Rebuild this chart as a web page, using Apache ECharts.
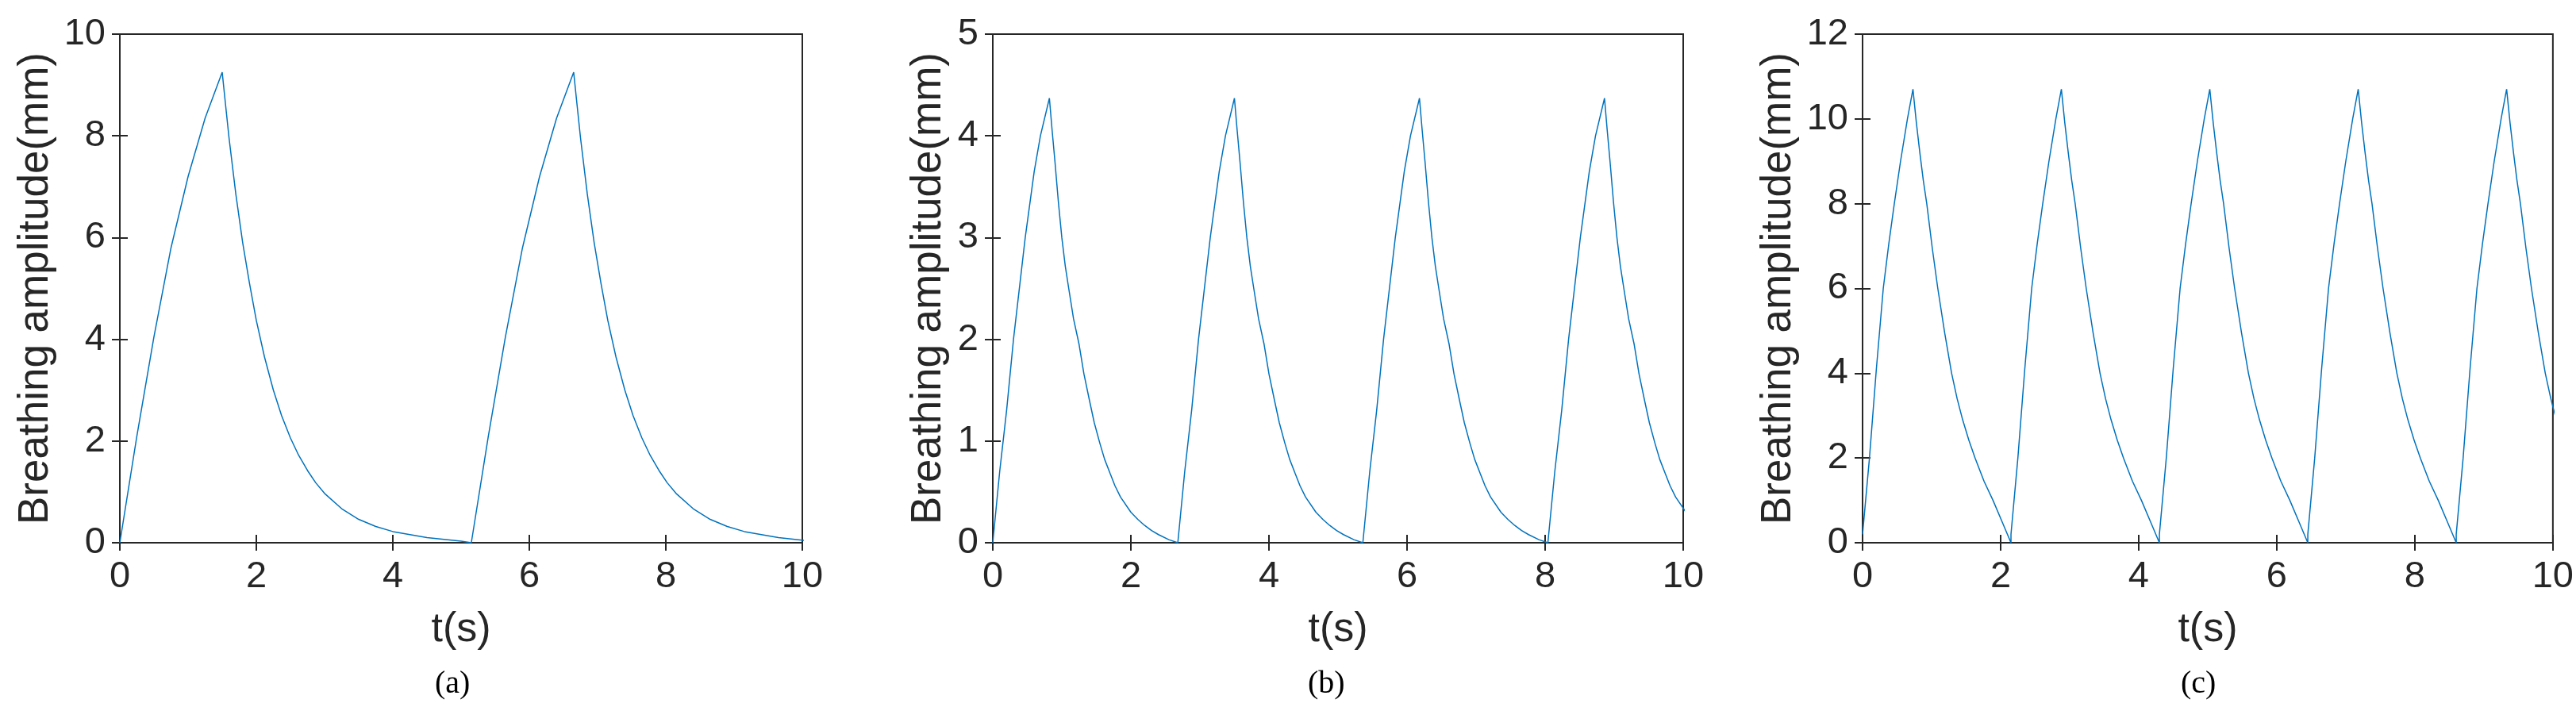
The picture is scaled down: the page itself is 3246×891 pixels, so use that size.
<!DOCTYPE html>
<html>
<head>
<meta charset="utf-8">
<script src="https://cdn.jsdelivr.net/npm/echarts@6/dist/echarts.min.js"></script>
<style>
html, body { margin: 0; padding: 0; background: #fff; }
#main { width: 3246px; height: 891px; }
</style>
</head>
<body>
<div id="main"></div>
<script>
// one breathing cycle per panel, [t from cycle start, amplitude]
var cycleA = [[0,0],[0.25,2.1],[0.5,4.05],[0.75,5.8],[1,7.2],[1.25,8.35],[1.5,9.25],[1.55,8.6],[1.6,7.96],
    [1.7,6.85],[1.8,5.9],[1.9,5.1],[2,4.37],[2.12,3.65],[2.25,3.0],[2.37,2.5],[2.5,2.06],[2.62,1.72],
    [2.75,1.42],[2.87,1.18],[3,0.97],[3.25,0.67],[3.5,0.46],[3.75,0.32],[4,0.22],[4.5,0.1],[5,0.03],[5.15,0]];
var startsA = [0, 5.15];

var cycleB = [[0,0],[0.1,0.7],[0.2,1.3],[0.3,2.0],[0.47,3.0],[0.6,3.65],[0.69,4.0],[0.82,4.37],[0.86,4.05],
    [0.9,3.75],[0.95,3.35],[1.0,3.0],[1.05,2.72],[1.1,2.5],[1.17,2.2],[1.25,1.95],[1.32,1.66],[1.4,1.4],
    [1.47,1.18],[1.55,0.98],[1.62,0.82],[1.7,0.68],[1.77,0.56],[1.85,0.45],[2.0,0.3],[2.1,0.23],[2.2,0.17],
    [2.3,0.12],[2.4,0.08],[2.55,0.03],[2.68,0]];
var startsB = [0, 2.68, 5.36, 8.04];

var cycleC = [[0,0.2],[0.1,2.0],[0.2,4.1],[0.3,6.0],[0.38,7.05],[0.46,8.0],[0.55,9.0],[0.65,10.0],[0.73,10.7],
    [0.78,9.9],[0.83,9.2],[0.88,8.55],[0.93,8.0],[1.01,6.95],[1.09,6.0],[1.19,4.95],[1.29,4.0],[1.37,3.4],
    [1.45,2.9],[1.54,2.42],[1.63,2.0],[1.76,1.45],[1.89,1.0],[2.02,0.5],[2.15,0]];
var startsC = [0, 2.15, 4.3, 6.45, 8.6];

var yMaxA = 10, yStepA = 2;
var yMaxB = 5, yStepB = 1;
var yMaxC = 12, yStepC = 2;

function repeatCycle(cycle, starts) {
    var out = [];
    starts.forEach(function (s) {
        cycle.forEach(function (p) { out.push([s + p[0], p[1]]); });
    });
    return out;
}

var ink = '#262626';
var font = 'Liberation Sans';

var grids = [
    { left: 151, top: 43, width: 860, height: 641 },
    { left: 1251, top: 43, width: 870, height: 641 },
    { left: 2347, top: 43, width: 873, height: 641 }
];
var yMax = [yMaxA, yMaxB, yMaxC];
var yStep = [yStepA, yStepB, yStepC];
var yGap = [79, 54, 79];
var data = [repeatCycle(cycleA, startsA), repeatCycle(cycleB, startsB), repeatCycle(cycleC, startsC)];

var xAxes = [], yAxes = [], series = [];
grids.forEach(function (g, i) {
    g.show = true;
    g.borderColor = ink;
    g.borderWidth = 2;
    g.containLabel = false;
    xAxes.push({
        gridIndex: i, type: 'value', min: 0, max: 10, interval: 2,
        name: 't(s)', nameLocation: 'middle', nameGap: 84,
        nameTextStyle: { fontFamily: font, fontSize: 52, color: ink },
        axisLine: { show: true, lineStyle: { color: ink, width: 2 } },
        axisTick: { inside: true, length: 10, lineStyle: { color: ink, width: 2 } },
        axisLabel: { fontFamily: font, fontSize: 47, color: ink, margin: 20 },
        splitLine: { show: false }
    });
    xAxes.push({
        gridIndex: i, type: 'value', position: 'top', min: 0, max: 10, interval: 2,
        axisLine: { show: true, lineStyle: { color: ink, width: 2 } },
        axisTick: { inside: true, length: 10, lineStyle: { color: ink, width: 2 } },
        axisLabel: { show: false }, splitLine: { show: false }
    });
    yAxes.push({
        gridIndex: i, type: 'value', min: 0, max: yMax[i], interval: yStep[i],
        name: 'Breathing amplitude(mm)', nameLocation: 'middle', nameGap: yGap[i],
        nameTextStyle: { fontFamily: font, fontSize: 53, color: ink },
        axisLine: { show: true, lineStyle: { color: ink, width: 2 } },
        axisTick: { inside: true, length: 10, lineStyle: { color: ink, width: 2 } },
        axisLabel: { fontFamily: font, fontSize: 47, color: ink, margin: 18 },
        splitLine: { show: false }
    });
    yAxes.push({
        gridIndex: i, type: 'value', position: 'right', min: 0, max: yMax[i], interval: yStep[i],
        axisLine: { show: true, lineStyle: { color: ink, width: 2 } },
        axisTick: { inside: true, length: 10, lineStyle: { color: ink, width: 2 } },
        axisLabel: { show: false }, splitLine: { show: false }
    });
    series.push({
        type: 'line', xAxisIndex: i * 2, yAxisIndex: i * 2, data: data[i],
        showSymbol: false, clip: true, animation: false,
        lineStyle: { color: '#0072BD', width: 1.5 }
    });
});

var myChart = echarts.init(document.getElementById('main'));
myChart.setOption({
    backgroundColor: '#fff',
    animation: false,
    grid: grids,
    xAxis: xAxes,
    yAxis: yAxes,
    series: series,
    graphic: [
        { type: 'text', left: 548, top: 842, style: { text: '(a)', font: '40px "Liberation Serif"', fill: '#000' } },
        { type: 'text', left: 1648, top: 842, style: { text: '(b)', font: '40px "Liberation Serif"', fill: '#000' } },
        { type: 'text', left: 2748, top: 842, style: { text: '(c)', font: '40px "Liberation Serif"', fill: '#000' } }
    ]
});
</script>
</body>
</html>
